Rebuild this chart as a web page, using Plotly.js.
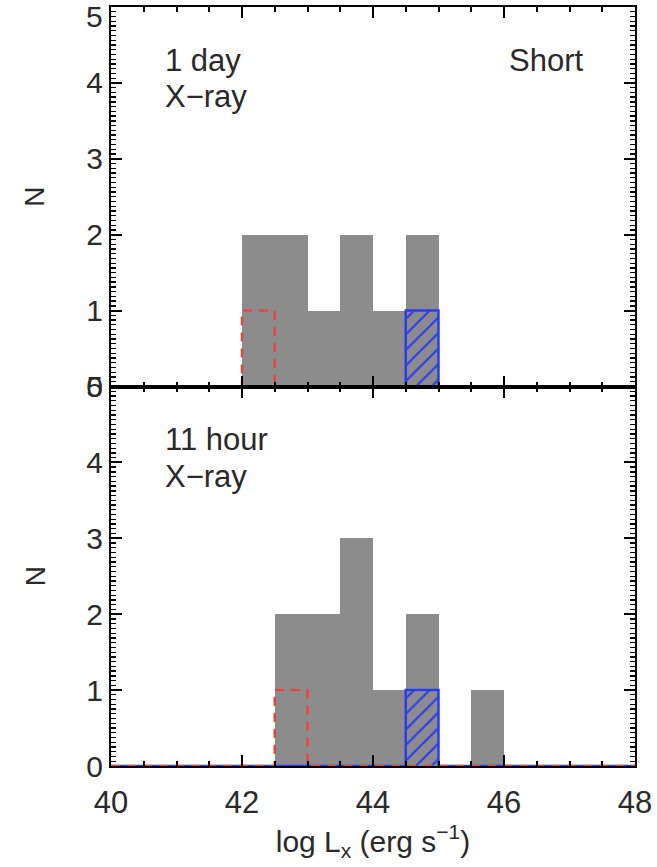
<!DOCTYPE html>
<html>
<head>
<meta charset="utf-8">
<script src="https://cdn.plot.ly/plotly-3.0.1.min.js"></script>
<style>body{margin:0;padding:0;background:#fff;}#chart{width:657px;height:867px;}</style>
</head>
<body>
<div id="chart"></div>
<script>
// ---- data ----
const binWidth = 0.5;
// Top panel: 1 day X-ray (Short)
const topGrayLeft = [42, 42.5, 43, 43.5, 44, 44.5];
const topGrayCount = [2, 2, 1, 2, 1, 2];
const topRedStepX = [40, 42, 42.5, 48];
const topRedStepY = [0, 1, 0, 0];
const topBlueLeft = [44.5];
const topBlueCount = [1];
const topBlueStepX = [40, 44.5, 45, 48];
const topBlueStepY = [0, 1, 0, 0];
// Bottom panel: 11 hour X-ray
const botGrayLeft = [42.5, 43, 43.5, 44, 44.5, 45, 45.5];
const botGrayCount = [2, 2, 3, 1, 2, 0, 1];
const botRedStepX = [40, 42.5, 43, 48];
const botRedStepY = [0, 1, 0, 0];
const botBlueLeft = [44.5];
const botBlueCount = [1];
const botBlueStepX = [40, 44.5, 45, 48];
const botBlueStepY = [0, 1, 0, 0];

const xTickStep = 2, xMinorStep = 0.5;
const yTickStep = 1, yMinorStep = 0.0625;
const topPanelMaxLabel = '5';

const GRAY = '#8c8c8c', RED = '#e8453c', BLUE = '#2a3cf0';
const FONT = 'Liberation Sans, Arial, sans-serif';
const TXT = '#2a2a2a';

function panel(xa, ya, grayLeft, grayCount, blueLeft, blueCount, blueX, blueY, redX, redY) {
  return [
    {type: 'bar', x: grayLeft, y: grayCount, width: binWidth, offset: 0,
     xaxis: xa, yaxis: ya, marker: {color: GRAY, line: {width: 0}}, hoverinfo: 'skip'},
    {type: 'bar', x: blueLeft, y: blueCount, width: binWidth, offset: 0,
     xaxis: xa, yaxis: ya,
     marker: {color: 'rgba(0,0,0,0)', line: {width: 0},
              pattern: {shape: '/', fgcolor: BLUE, bgcolor: 'rgba(0,0,0,0)', size: 11, solidity: 0.2}},
     hoverinfo: 'skip'},
    {type: 'scatter', mode: 'lines', x: blueX, y: blueY, xaxis: xa, yaxis: ya,
     line: {shape: 'hv', color: BLUE, width: 2.5}, hoverinfo: 'skip'},
    {type: 'scatter', mode: 'lines', x: redX, y: redY, xaxis: xa, yaxis: ya,
     line: {shape: 'hv', color: RED, width: 2.5, dash: '9px,7px'}, hoverinfo: 'skip'}
  ];
}

const data = [
  ...panel('x', 'y', topGrayLeft, topGrayCount, topBlueLeft, topBlueCount, topBlueStepX, topBlueStepY, topRedStepX, topRedStepY),
  ...panel('x2', 'y2', botGrayLeft, botGrayCount, botBlueLeft, botBlueCount, botBlueStepX, botBlueStepY, botRedStepX, botRedStepY)
];

function xAxis(anchor, showLabels) {
  return {
    anchor: anchor, domain: [0, 1], range: [40, 48], showgrid: false, zeroline: false,
    showline: true, linecolor: '#000', linewidth: 2, mirror: 'ticks', layer: 'above traces',
    ticks: 'inside', ticklen: 11, tickwidth: 2, tickcolor: '#000',
    dtick: xTickStep, showticklabels: showLabels, ticklabelstandoff: 8,
    minor: {dtick: xMinorStep, ticks: 'inside', ticklen: 5, tickwidth: 2, tickcolor: '#000'},
    tickfont: {family: FONT, size: 31, color: TXT}
  };
}
function yAxis(anchor, domain) {
  return {
    anchor: anchor, domain: domain, range: [0, 5], showgrid: false, zeroline: false,
    showline: true, linecolor: '#000', linewidth: 2, mirror: 'ticks', layer: 'above traces',
    ticks: 'inside', ticklen: 11, tickwidth: 2, tickcolor: '#000',
    dtick: yTickStep,
    minor: {dtick: yMinorStep, ticks: 'inside', ticklen: 5, tickwidth: 1.3, tickcolor: '#000'},
    tickfont: {family: FONT, size: 30, color: TXT}
  };
}

function ann(text, xref, yref, x, y, xanchor) {
  return {text: text, xref: xref, yref: yref, x: x, y: y, xanchor: xanchor, yanchor: 'middle',
          showarrow: false, font: {family: FONT, size: 31, color: TXT}};
}

const layout = {
  width: 657, height: 867,
  margin: {l: 111, r: 22, t: 7, b: 101},
  paper_bgcolor: '#fff', plot_bgcolor: '#fff',
  showlegend: false, barmode: 'overlay', bargap: 0,
  xaxis: xAxis('y', false),
  yaxis: yAxis('x', [0.5, 1]),
  xaxis2: Object.assign(xAxis('y2', true), {
    title: {text: 'log L<sub>x</sub> (erg s<sup>−1</sup>)', font: {family: FONT, size: 30, color: TXT}, standoff: 0}
  }),
  yaxis2: yAxis('x2', [0, 0.5]),
  annotations: [
    ann('1 day', 'x', 'y', 40.8, 4.3, 'left'),
    ann('X−ray', 'x', 'y', 40.8, 3.82, 'left'),
    ann('Short', 'x', 'y', 47.24, 4.3, 'right'),
    ann('11 hour', 'x2', 'y2', 40.8, 4.3, 'left'),
    ann('X−ray', 'x2', 'y2', 40.8, 3.82, 'left'),
    {text: topPanelMaxLabel, xref: 'paper', yref: 'paper', x: -0.012, y: 0.988,
     showarrow: false, xanchor: 'right', yanchor: 'middle', font: {family: FONT, size: 30, color: TXT}},
    {text: 'N', xref: 'paper', yref: 'paper', x: -0.145, y: 0.75, textangle: -90,
     showarrow: false, xanchor: 'center', yanchor: 'middle', font: {family: FONT, size: 28, color: TXT}},
    {text: 'N', xref: 'paper', yref: 'paper', x: -0.145, y: 0.25, textangle: -90,
     showarrow: false, xanchor: 'center', yanchor: 'middle', font: {family: FONT, size: 28, color: TXT}}
  ]
};

Plotly.newPlot('chart', data, layout, {displayModeBar: false, staticPlot: true});
</script>
</body>
</html>
